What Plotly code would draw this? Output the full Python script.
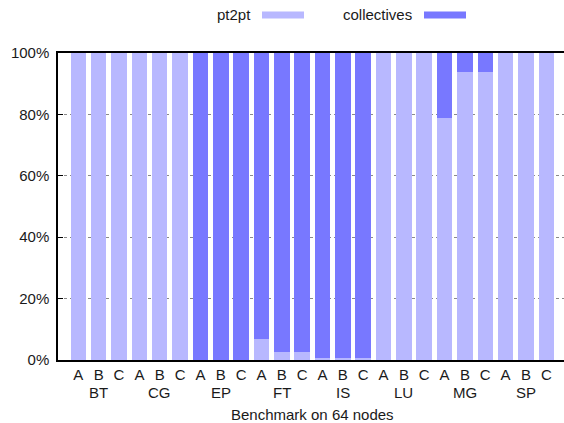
import plotly.graph_objects as go

benchmarks = ["BT", "CG", "EP", "FT", "IS", "LU", "MG", "SP"]
classes = ["A", "B", "C"]
# percentage of communication time: point-to-point vs collectives
pt2pt = [100, 100, 100,
         100, 100, 100,
         0, 0, 0,
         6.8, 2.7, 2.7,
         0.8, 0.7, 0.6,
         100, 100, 100,
         78.8, 93.8, 93.8,
         100, 100, 100]
collectives = [100 - v for v in pt2pt]
y_ticks = [0, 20, 40, 60, 80, 100]
y_tick_text = ["0%", "20%", "40%", "60%", "80%", "100%"]

labels = [c for b in benchmarks for c in classes]
xpos = list(range(1, len(labels) + 1))

LIGHT = "#b8b8ff"
DARK = "#7878ff"
FONT = dict(family="Liberation Sans, Arial, sans-serif", size=15, color="#1a1a1a")

L, R, T, B = 58, 0, 53, 63
W = 564 - L - R
H = 423 - T - B


def px(xp):
    return (xp - L) / W


def py(yp_top):
    # pixel from top -> paper fraction
    return (423 - yp_top - B) / H


fig = go.Figure()
fig.add_trace(go.Bar(x=xpos, y=pt2pt, name="pt2pt", marker=dict(color=LIGHT, line=dict(width=0)),
                     width=0.76, showlegend=False))
fig.add_trace(go.Bar(x=xpos, y=collectives, name="collectives", marker=dict(color=DARK, line=dict(width=0)),
                     width=0.76, showlegend=False))

# group labels below class letters
for i, b in enumerate(benchmarks):
    fig.add_annotation(x=xpos[3 * i + 1], y=0, xref="x", yref="paper", text=b,
                       showarrow=False, yshift=-32, yanchor="middle", font=FONT)
fig.add_annotation(x=px(312.5), y=py(414), xref="paper", yref="paper", text="Benchmark on 64 nodes",
                   showarrow=False, yanchor="middle", font=FONT)

# legend built manually (gnuplot style: text then sample)
legend_items = [("pt2pt", LIGHT, 253, 262), ("collectives", DARK, 414, 424)]
for name, col, text_right, sw_left in legend_items:
    fig.add_annotation(x=px(text_right), y=py(15), xref="paper", yref="paper", text=name,
                       showarrow=False, xanchor="right", yanchor="middle", font=FONT)
    fig.add_shape(type="rect", xref="paper", yref="paper",
                  x0=px(sw_left), x1=px(sw_left + 42), y0=py(18.5), y1=py(11.5),
                  fillcolor=col, line=dict(width=0))

fig.update_layout(
    width=564, height=423,
    margin=dict(l=L, r=R, t=T, b=B),
    paper_bgcolor="white", plot_bgcolor="white",
    barmode="stack", bargap=0,
    font=FONT,
    xaxis=dict(range=[0, 24.87], tickvals=xpos, ticktext=labels, showgrid=False,
               showline=True, linecolor="black", linewidth=1.5, mirror=True,
               ticks="", zeroline=False, ticklabelstandoff=0, tickfont=FONT),
    yaxis=dict(range=[0, 100], tickvals=y_ticks, ticktext=y_tick_text, showgrid=True,
               gridcolor="#8a8a8a", griddash="dot", gridwidth=1,
               showline=True, linecolor="black", linewidth=1.5, mirror=False,
               ticks="inside", ticklen=5, tickcolor="black", zeroline=False,
               ticklabelstandoff=4, tickfont=FONT),
)

fig.write_html("out.html")
